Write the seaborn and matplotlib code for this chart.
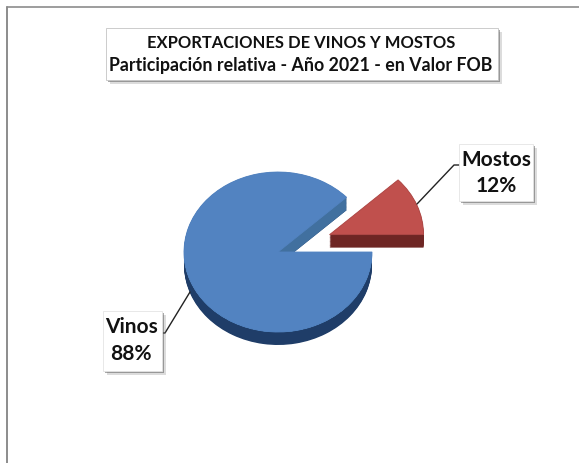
import numpy as np
import seaborn as sns
import matplotlib.pyplot as plt
import matplotlib.patheffects as pe
from matplotlib.patches import Circle

# Data
categories = ["Mostos", "Vinos"]
shares = [12, 88]
title_lines = ["EXPORTACIONES DE VINOS Y MOSTOS", "Participación relativa - Año 2021 - en Valor FOB"]

sns.set_theme(style="white")
plt.rcParams['font.family'] = ['Lato', 'DejaVu Sans']

W, H = 579, 463
cx, cy, rx, ry = 278, 252, 94, 80  # pie position on the canvas, pixels
explode = [0.59, 0]
depth = 13 / ry

top_colors = ["#c0504d", "#5283c1"]
rim_colors = ["#6e2624", "#1f3d68"]
cut_color = "#41709f"

fig = plt.figure(figsize=(W / 100, H / 100), dpi=100)
ax = fig.add_axes([0, 0, 1, 1])

# fake 3D: pile the same pie up from the bottom, then stretch the axes
for d in np.arange(depth, 0, -0.01):
    wedges, _ = ax.pie(shares, explode=explode, startangle=0, radius=1, center=(0, -d),
                       colors=rim_colors, wedgeprops={'linewidth': 0})
for d in np.arange(depth, 0, -0.01):
    wedges, _ = ax.pie(shares, explode=explode, startangle=0, radius=1, center=(0, -d),
                       colors=[rim_colors[0], cut_color], wedgeprops={'linewidth': 0})
    # lighter wall only shows where the slice was cut, inside the top circle
    wedges[0].set_visible(False)
    wedges[1].set_clip_on(True)  # pie turns clipping off
    wedges[1].set_clip_path(Circle((0, 0), 1, transform=ax.transData))
wedges, _ = ax.pie(shares, explode=explode, startangle=0, radius=1, colors=top_colors,
                   wedgeprops={'linewidth': 0.6, 'edgecolor': "#b04a48"})
wedges[1].set_edgecolor(top_colors[1])

ax.set_aspect('auto')
ax.set_xlim(-cx / rx, (W - cx) / rx)
ax.set_ylim((cy - H) / ry, cy / ry)

# overlay in pixel coordinates for frame, boxes and leader lines
ov = fig.add_axes([0, 0, 1, 1], facecolor='none')
ov.set_xlim(0, W)
ov.set_ylim(H, 0)
ov.axis('off')

ov.plot([6.5, 6.5], [H, 6.5], color="#8c8c8c", lw=1.4)
ov.plot([6.5, W], [6.5, 6.5], color="#8c8c8c", lw=1.2)

ov.plot([417, 454, 460], [204, 165, 165], color="#222222", lw=1.0)
ov.plot([190, 165, 160], [292, 333, 333], color="#222222", lw=1.0)


def box(x0, y0, x1, y1, edge="#e4e4e4", zorder=3):
    r = plt.Rectangle((x0, y0), x1 - x0, y1 - y0, facecolor="white", edgecolor=edge,
                      lw=0.6, zorder=zorder)
    r.set_path_effects([pe.SimplePatchShadow(offset=(3, -3), shadow_rgbFace="#777777", alpha=0.25),
                        pe.SimplePatchShadow(offset=(1.5, -1.5), shadow_rgbFace="#555555", alpha=0.5),
                        pe.Normal()])
    ov.add_patch(r)


box(106, 28, 498, 80, edge="#c4c4c4")
ov.text(301, 43.5, title_lines[0], ha='center', va='center', fontsize=11.9, fontweight='bold',
        color="#111111", zorder=4)
ov.text(301, 65, title_lines[1], ha='center', va='center', fontsize=12.8, fontweight='bold',
        color="#111111", zorder=4)

box(459, 144, 533, 201)
ov.text(496, 160, categories[0], ha='center', va='center', fontsize=15, fontweight='bold',
        color="#111111", zorder=4)
ov.text(496, 186, f"{shares[0]}%", ha='center', va='center', fontsize=15, fontweight='bold',
        color="#111111", zorder=4)

box(103, 311, 162, 371)
ov.text(131, 327, categories[1], ha='center', va='center', fontsize=15, fontweight='bold',
        color="#111111", zorder=4)
ov.text(131, 354, f"{shares[1]}%", ha='center', va='center', fontsize=15, fontweight='bold',
        color="#111111", zorder=4)

fig.savefig("out.png", dpi=100, facecolor="white")
